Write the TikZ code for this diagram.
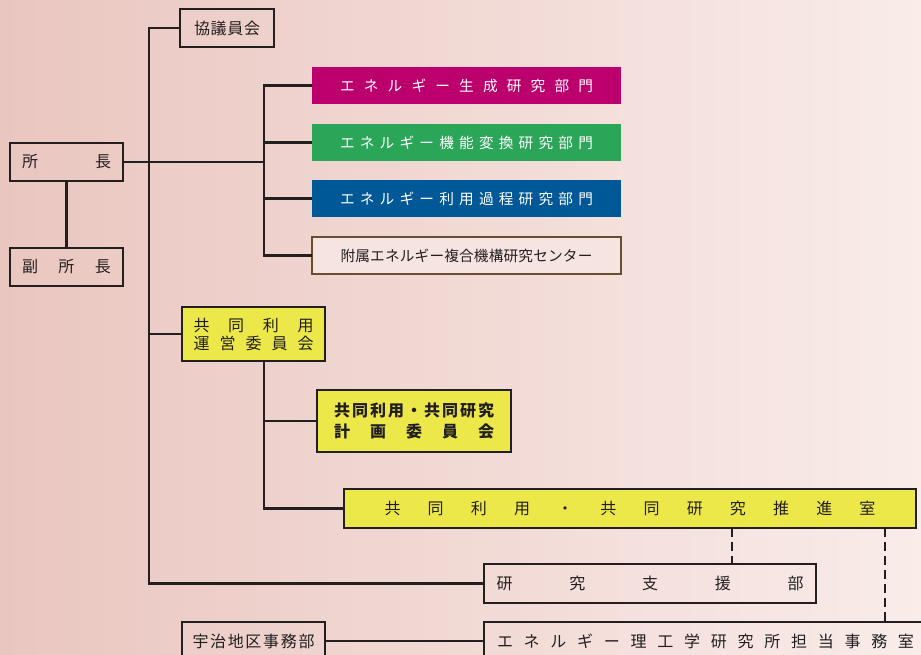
\documentclass[tikz,border=0pt]{standalone}
\usepackage{fontspec}
\setmainfont{Noto Sans CJK JP}
\newdimen\px \px=0.75pt
\def\sprEnd{}
\def\sprA#1{#1\sprB}
\def\sprB#1{\ifx#1\sprEnd\else\hfill#1\expandafter\sprB\fi}
\newcommand\spr[2]{\makebox[#1][s]{\sprA#2\sprEnd}}
\definecolor{bgl}{RGB}{234,198,192}
\definecolor{bgr}{RGB}{249,236,233}
\definecolor{linec}{RGB}{35,31,32}
\definecolor{magc}{RGB}{187,0,110}
\definecolor{grnc}{RGB}{43,165,88}
\definecolor{bluc}{RGB}{0,88,150}
\definecolor{yelc}{RGB}{236,232,74}
\definecolor{brnc}{RGB}{105,78,50}
\definecolor{pinkc}{RGB}{246,228,224}
\begin{document}
\begin{tikzpicture}[x=0.75pt,y=-0.75pt,
  sz/.style 2 args={minimum width=#1*0.75pt, minimum height=#2*0.75pt},
  base/.style={inner sep=0pt, outer sep=0pt, font=\fontsize{12}{13.5}\selectfont, text=linec},
  small/.style={font=\fontsize{11}{13}\selectfont},
  wbox/.style={base, draw=linec, line width=1.9pt},
  ybox/.style={wbox, fill=yelc},
  cbox/.style={base, small, fill=#1, text=white},
  conn/.style={draw=linec, line width=1.9pt},
  dconn/.style={conn, dash pattern=on 7pt off 3.5pt}]
\clip (0,0) rectangle (921,655);
\shade[left color=bgl, right color=bgr] (0,0) rectangle (921,655);
\coordinate (spine) at (149,0);
\coordinate (bus) at (264,0);
\coordinate (d1) at (732,0);
\coordinate (d2) at (885,0);
% nodes
\node[wbox, sz={94}{38}] (kyogi) at (227,28) {\spr{66\px}{協議員会}};
\node[wbox, sz={113}{38}] (shocho) at (66.5,162) {\spr{89\px}{所長}};
\node[wbox, sz={113}{38}] (fuku) at (66.5,267) {\spr{89\px}{副所長}};
\node[cbox=magc, sz={309}{37}] (mag) at (466.5,85.5) {\spr{253\px}{エネルギー生成研究部門}};
\node[cbox=grnc, sz={309}{37}] (grn) at (466.5,142.5) {\spr{253\px}{エネルギー機能変換研究部門}};
\node[cbox=bluc, sz={309}{37}] (blu) at (466.5,198.5) {\spr{253\px}{エネルギー利用過程研究部門}};
\node[base, small, draw=brnc, fill=pinkc, line width=1.9pt, sz={309}{37}] (fuz) at (466.5,255.5) {\spr{252\px}{附属エネルギー複合機構研究センター}};
\node[ybox, sz={143}{54}, align=center] (unei) at (253.5,334) {\spr{120\px}{共同利用}\\\spr{120\px}{運営委員会}};
\node[ybox, sz={194}{62}, align=center, font=\fontsize{12}{15.75}\selectfont\bfseries] (keik) at (414,421) {\spr{160\px}{共同利用・共同研究}\\\spr{160\px}{計画委員会}};
\node[ybox, sz={572}{39}] (sui) at (630,508.5) {\spr{491\px}{共同利用・共同研究推進室}};
\node[wbox, sz={332}{39}] (shien) at (650,583.5) {\spr{307\px}{研究支援部}};
\node[wbox, sz={143}{38}] (uji) at (253.5,641) {\spr{122\px}{宇治地区事務部}};
\node[wbox, sz={446}{38}, anchor=west] (jimu) at (484,641) {\hspace*{13\px}\spr{417\px}{エネルギー理工学研究所担当事務室}\hspace*{16\px}};
% connectors
\draw[conn] (kyogi.west) -- (kyogi.west -| spine) -- (shien.west -| spine) -- (shien.west);
\draw[conn] (unei.west) -- (unei.west -| spine);
\draw[conn] (shocho.east) -- (shocho.east -| bus);
\draw[conn] (mag.west) -- (mag.west -| bus) -- (fuz.west -| bus) -- (fuz.west);
\draw[conn] (grn.west) -- (grn.west -| bus);
\draw[conn] (blu.west) -- (blu.west -| bus);
\draw[conn] (shocho.south) -- (fuku.north);
\draw[conn] (unei.south -| bus) -- (sui.west -| bus) -- (sui.west);
\draw[conn] (keik.west -| bus) -- (keik.west);
\draw[conn] (uji.east) -- (jimu.west);
\draw[dconn] (sui.south -| d1) -- (shien.north -| d1);
\draw[dconn] (sui.south -| d2) -- (jimu.north -| d2);
\end{tikzpicture}
\end{document}
